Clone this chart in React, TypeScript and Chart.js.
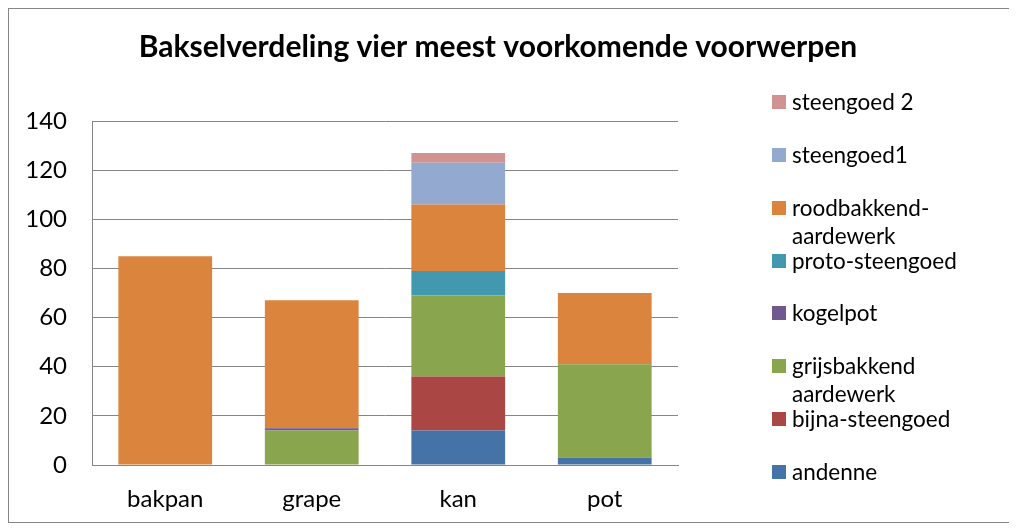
import React, { useEffect, useRef } from "react";
import { Chart, registerables } from "chart.js";

Chart.register(...registerables);

const categories = ["bakpan", "grape", "kan", "pot"];
const andenne = [0, 0, 14, 3];
const bijnaSteengoed = [0, 0, 22, 0];
const grijsbakkend = [0, 14, 33, 38];
const kogelpot = [0, 1, 0, 0];
const protoSteengoed = [0, 0, 10, 0];
const roodbakkend = [85, 52, 27, 29];
const steengoed1 = [0, 0, 17, 0];
const steengoed2 = [0, 0, 4, 0];

const seriesNames = [
  "andenne",
  "bijna-steengoed",
  "grijsbakkend aardewerk",
  "kogelpot",
  "proto-steengoed",
  "roodbakkend-aardewerk",
  "steengoed1",
  "steengoed 2",
];
const seriesValues = [andenne, bijnaSteengoed, grijsbakkend, kogelpot, protoSteengoed, roodbakkend, steengoed1, steengoed2];
const seriesColors = ["#4572A7", "#AA4643", "#89A54E", "#71588F", "#4198AF", "#DB843D", "#93A9CF", "#D19392"];

const yMin = 0;
const yMax = 140;
const yStep = 20;
const titleText = "Bakselverdeling vier meest voorkomende voorwerpen";

const FONT = "Lato, 'Open Sans', sans-serif";

export default function App() {
  const ref = useRef<HTMLCanvasElement | null>(null);

  useEffect(() => {
    if (!ref.current) return;
    const chart = new Chart(ref.current, {
      type: "bar",
      data: {
        labels: categories,
        datasets: seriesNames.map((name, i) => ({
          label: name,
          data: seriesValues[i],
          backgroundColor: seriesColors[i],
          borderWidth: 0,
          barPercentage: 0.64,
          categoryPercentage: 1,
          yAxisID: "y",
        })),
      },
      options: {
        animation: false,
        responsive: false,
        maintainAspectRatio: false,
        layout: { padding: { left: 0, right: 22, top: 0, bottom: 8 } },
        plugins: {
          legend: { display: false },
          tooltip: { enabled: false },
          title: {
            display: true,
            text: titleText,
            color: "#000",
            font: { family: FONT, size: 30, weight: "bold", lineHeight: 1.2 },
            padding: { top: 20, bottom: 56 },
          },
        },
        scales: {
          x: {
            stacked: true,
            grid: { display: false, drawTicks: false },
            border: { display: true, color: "#868686", width: 1 },
            ticks: { color: "#000", font: { family: FONT, size: 24 }, padding: 20 },
            afterFit: (s: any) => {
              s.height = 49;
            },
          },
          y: {
            stacked: true,
            position: "left",
            min: yMin,
            max: yMax,
            ticks: { stepSize: yStep, color: "#000", font: { family: FONT, size: 24 }, padding: 25 },
            grid: { color: "#868686", lineWidth: 1, drawTicks: false },
            border: { display: true, color: "#868686", width: 1 },
            afterFit: (s: any) => {
              s.width = 83;
            },
          },
          legendSpace: {
            type: "linear",
            position: "right",
            min: 0,
            max: 1,
            grid: { display: false, drawTicks: false },
            border: { display: false },
            ticks: { display: false },
            afterFit: (s: any) => {
              s.width = 309;
            },
          },
        },
      },
    });
    return () => chart.destroy();
  }, []);

  const legendOrder = seriesNames.map((_, i) => i).reverse();

  return (
    <div
      style={{
        position: "relative",
        width: 1000,
        height: 513,
        border: "1px solid #868686",
        fontFamily: FONT,
      }}
    >
      <canvas ref={ref} width={1000} height={513} style={{ display: "block" }} />
      {legendOrder.map((si, k) => (
        <div
          key={seriesNames[si]}
          style={{
            position: "absolute",
            left: 763,
            top: 102 - 9 - 14 + k * 52.86,
            display: "flex",
            alignItems: "flex-start",
            width: 220,
          }}
        >
          <span
            style={{
              display: "inline-block",
              width: 14,
              height: 14,
              background: seriesColors[si],
              marginTop: 7,
              marginRight: 6,
              flex: "0 0 auto",
            }}
          />
          <span style={{ fontSize: 22.5, lineHeight: "28px", color: "#000", width: 185 }}>{seriesNames[si]}</span>
        </div>
      ))}
    </div>
  );
}
